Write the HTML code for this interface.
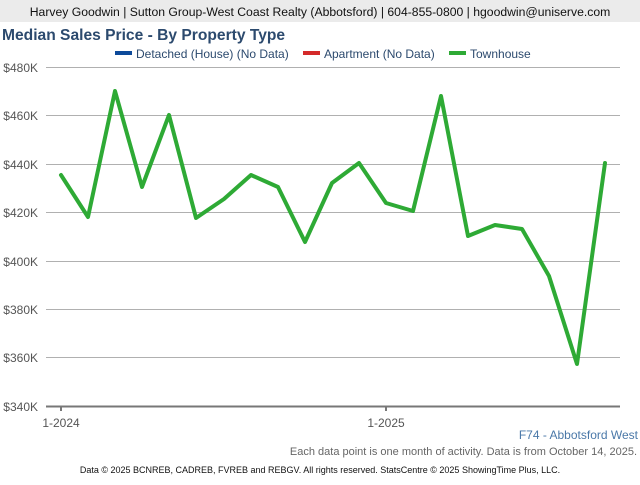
<!DOCTYPE html>
<html><head><meta charset="utf-8"><style>
body{margin:0;width:640px;height:480px;overflow:hidden;background:#fff;font-family:"Liberation Sans",sans-serif}
</style></head><body>
<svg width="640" height="480" xmlns="http://www.w3.org/2000/svg" font-family="Liberation Sans, sans-serif">
<rect x="0" y="0" width="640" height="443" fill="#fafafa"/>
<rect x="0" y="0" width="640" height="22" fill="#ebebeb"/>
<text x="320" y="16" text-anchor="middle" font-size="12.2" fill="#111">Harvey Goodwin | Sutton Group-West Coast Realty (Abbotsford) | 604-855-0800 | hgoodwin@uniserve.com</text>
<rect x="0" y="22" width="640" height="421" fill="#fff"/>
<text x="2" y="40" font-size="15.6" font-weight="bold" fill="#2c4a6e">Median Sales Price - By Property Type</text>
<rect x="115" y="51" width="17" height="4" fill="#0d4a9a"/>
<text x="136" y="58" font-size="12" fill="#2c4a6e">Detached (House) (No Data)</text>
<rect x="303" y="51" width="17" height="4" fill="#d42a2a"/>
<text x="324" y="58" font-size="12" fill="#2c4a6e">Apartment (No Data)</text>
<rect x="449" y="51" width="17" height="4" fill="#2eaa35"/>
<text x="470" y="58" font-size="12" fill="#2c4a6e">Townhouse</text>
<g stroke="#b0b0b0" stroke-width="1">
<line x1="46" x2="620" y1="67.5" y2="67.5"/><line x1="46" x2="620" y1="115.5" y2="115.5"/><line x1="46" x2="620" y1="164.5" y2="164.5"/><line x1="46" x2="620" y1="212.5" y2="212.5"/><line x1="46" x2="620" y1="261.5" y2="261.5"/><line x1="46" x2="620" y1="309.5" y2="309.5"/><line x1="46" x2="620" y1="357.5" y2="357.5"/>
</g>
<line x1="46" x2="620" y1="406.5" y2="406.5" stroke="#777" stroke-width="2"/>
<line x1="61" x2="61" y1="406" y2="411" stroke="#777" stroke-width="2"/>
<line x1="386" x2="386" y1="406" y2="411" stroke="#777" stroke-width="2"/>
<g font-size="12" fill="#555" text-anchor="end">
<text x="38" y="72">$480K</text><text x="38" y="120">$460K</text><text x="38" y="169">$440K</text><text x="38" y="217">$420K</text><text x="38" y="266">$400K</text><text x="38" y="314">$380K</text><text x="38" y="362">$360K</text><text x="38" y="411">$340K</text>
</g>
<g font-size="12" fill="#555" text-anchor="middle"><text x="61" y="427">1-2024</text><text x="386" y="427">1-2025</text></g>
<polyline fill="none" stroke="#2eaa35" stroke-width="4" stroke-linejoin="round" stroke-linecap="round" points="61,175 88,217 115,91 142,187 169,115 196,218 224,199 251,175 278,187 305,242 332,183 359,163 386,203 413,211 441,96 468,236 495,225 522,229 549,276 577,364 605,163"/>
<text x="638" y="439" text-anchor="end" font-size="12" fill="#4a78a8">F74 - Abbotsford West</text>
<text x="637" y="455" text-anchor="end" font-size="11" fill="#666">Each data point is one month of activity. Data is from October 14, 2025.</text>
<text x="320" y="473" text-anchor="middle" font-size="9" fill="#111">Data © 2025 BCNREB, CADREB, FVREB and REBGV. All rights reserved. StatsCentre © 2025 ShowingTime Plus, LLC.</text>
</svg>
</body></html>
